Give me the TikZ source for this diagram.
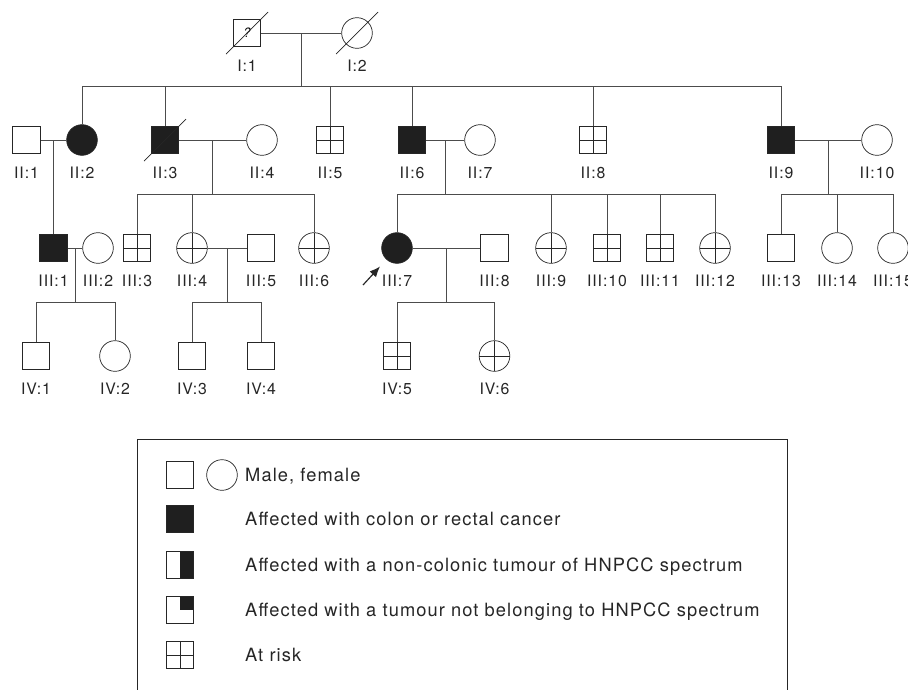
\documentclass[tikz,border=0pt]{standalone}
\usepackage{fontspec}
\setmainfont{TeX Gyre Heros}[LetterSpace=6]
\usetikzlibrary{arrows.meta,calc}
\tikzset{
  male/.style={rectangle, draw=black!85, line width=0.6pt, minimum size=8.3mm, inner sep=0pt},
  female/.style={circle, draw=black!85, line width=0.6pt, minimum size=9.2mm, inner sep=0pt},
  aff/.style={fill=black!88},
  risk/.style={path picture={\draw[black!85, line width=0.6pt]
      (path picture bounding box.north) -- (path picture bounding box.south)
      (path picture bounding box.west) -- (path picture bounding box.east);}},
  halfaff/.style={path picture={\fill[black!88]
      (path picture bounding box.north) rectangle (path picture bounding box.south east);}},
  quartaff/.style={path picture={\fill[black!88]
      (path picture bounding box.north east) rectangle (path picture bounding box.center);}},
  lbl/.style={font=\fontsize{13.5}{15}\selectfont, inner sep=0pt, text=black!85},
  leg/.style={font=\fontsize{15.6}{18}\selectfont, anchor=base west, inner sep=0pt, text=black!85},
  conn/.style={draw=black!70, line width=0.6pt},
  slash/.style={draw=black!85, line width=0.6pt},
  probarr/.style={-{Latex[length=3.2mm, width=2.6mm]}, line width=1pt, black!85},
}
\begin{document}
\begin{tikzpicture}[x=0.03cm, y=-0.03cm]
\useasboundingbox (0,0) rectangle (908,689);
\node[male, font=\fontsize{11}{12}\selectfont\itshape] (i1) at (247,33) {?};
\node[female] (i2) at (357,33) {};
\node[male] (ii1) at (26.5,140) {};
\node[female, aff] (ii2) at (82,140) {};
\node[male, aff] (ii3) at (165,140) {};
\node[female] (ii4) at (262,140) {};
\node[male, risk] (ii5) at (330,140) {};
\node[male, aff] (ii6) at (412,140) {};
\node[female] (ii7) at (480,140) {};
\node[male, risk] (ii8) at (593,140) {};
\node[male, aff] (ii9) at (781,140) {};
\node[female] (ii10) at (877,140) {};
\node[male, aff] (iii1) at (53.5,248) {};
\node[female] (iii2) at (98,248) {};
\node[male, risk] (iii3) at (137,248) {};
\node[female, risk] (iii4) at (192,248) {};
\node[male] (iii5) at (261,248) {};
\node[female, risk] (iii6) at (314,248) {};
\node[female, aff] (iii7) at (397,248) {};
\node[male] (iii8) at (494.5,248) {};
\node[female, risk] (iii9) at (551,248) {};
\node[male, risk] (iii10) at (607,248) {};
\node[male, risk] (iii11) at (660,248) {};
\node[female, risk] (iii12) at (715,248) {};
\node[male] (iii13) at (781,248) {};
\node[female] (iii14) at (837,248) {};
\node[female] (iii15) at (893,248) {};
\node[male] (iv1) at (36,356) {};
\node[female] (iv2) at (115,356) {};
\node[male] (iv3) at (192,356) {};
\node[male] (iv4) at (261,356) {};
\node[male, risk] (iv5) at (397,356) {};
\node[female, risk] (iv6) at (494.5,356) {};
\foreach \p/\t in {i1/I:1, i2/I:2, ii1/II:1, ii2/II:2, ii3/II:3, ii4/II:4, ii5/II:5,
    ii6/II:6, ii7/II:7, ii8/II:8, ii9/II:9, ii10/II:10, iii1/III:1, iii2/III:2,
    iii3/III:3, iii4/III:4, iii5/III:5, iii6/III:6, iii7/III:7, iii8/III:8,
    iii9/III:9, iii10/III:10, iii11/III:11, iii12/III:12, iii13/III:13,
    iii14/III:14, iii15/III:15, iv1/IV:1, iv2/IV:2, iv3/IV:3, iv4/IV:4,
    iv5/IV:5, iv6/IV:6}
  \node[lbl] (\p-l) at ([shift={(0,33)}]\p.center) {\t};
\foreach \p in {i1,i2,ii3}
  \draw[slash] ([shift={(-21,21)}]\p.center) -- ([shift={(21,-21)}]\p.center);
\coordinate (sib2) at (0,86);
\coordinate (sib3) at (0,194);
\coordinate (sib4) at (0,302);
\foreach \a/\b/\m in {i1/i2/c-i, ii1/ii2/c-ii1, ii3/ii4/c-ii3, ii6/ii7/c-ii6, ii9/ii10/c-ii9,
    iii1/iii2/c-iii1, iii4/iii5/c-iii4, iii7/iii8/c-iii7}{
  \draw[conn] (\a) -- (\b);
  \coordinate (\m) at ($(\a.east)!.5!(\b.west)$);
}
\draw[conn] (c-i) -- (c-i |- sib2);
\draw[conn] (ii2.north) |- (ii9 |- sib2) -- (ii9.north);
\foreach \c in {ii3,ii5,ii6,ii8} \draw[conn] (\c.north) -- (\c |- sib2);
\draw[conn] (c-ii1) -- (c-ii1 |- iii1.north);
\draw[conn] (c-ii3) -- (c-ii3 |- sib3);
\draw[conn] (iii3.north) |- (iii6 |- sib3) -- (iii6.north);
\draw[conn] (iii4.north) -- (iii4 |- sib3);
\draw[conn] (c-ii6) -- (c-ii6 |- sib3);
\draw[conn] (iii7.north) |- (iii12 |- sib3) -- (iii12.north);
\foreach \c in {iii9,iii10,iii11} \draw[conn] (\c.north) -- (\c |- sib3);
\draw[conn] (c-ii9) -- (c-ii9 |- sib3);
\draw[conn] (iii13.north) |- (iii15 |- sib3) -- (iii15.north);
\draw[conn] (iii14.north) -- (iii14 |- sib3);
\draw[conn] (c-iii1) -- (c-iii1 |- sib4);
\draw[conn] (iv1.north) |- (iv2 |- sib4) -- (iv2.north);
\draw[conn] (c-iii4) -- (c-iii4 |- sib4);
\draw[conn] (iv3.north) |- (iv4 |- sib4) -- (iv4.north);
\draw[conn] (c-iii7) -- (c-iii7 |- sib4);
\draw[conn] (iv5.north) |- (iv6 |- sib4) -- (iv6.north);
\coordinate (parr) at (363,285);
\draw[probarr, shorten >=2.8mm] (parr) -- (iii7);
\coordinate (lgA) at (137,695);
\coordinate (lgB) at (787,439);
\draw[black!85, line width=0.6pt] (lgA) |- (lgB) -- (lgB |- lgA);
\node[male] (lg-m) at (180,475) {};
\node[female] (lg-f) at (222,475) {};
\node[male, aff] (lg-a) at (180,519) {};
\node[male, halfaff] (lg-h) at (180,565) {};
\node[male, quartaff] (lg-q) at (180,610) {};
\node[male, risk] (lg-r) at (180,655) {};
\node[leg] (lg-mt) at (245,481) {Male, female};
\node[leg] (lg-at) at (245,525) {Affected with colon or rectal cancer};
\node[leg] (lg-ht) at (245,571) {Affected with a non-colonic tumour of HNPCC spectrum};
\node[leg] (lg-qt) at (245,616) {Affected with a tumour not belonging to HNPCC spectrum};
\node[leg] (lg-rt) at (245,661) {At risk};
\end{tikzpicture}
\end{document}
